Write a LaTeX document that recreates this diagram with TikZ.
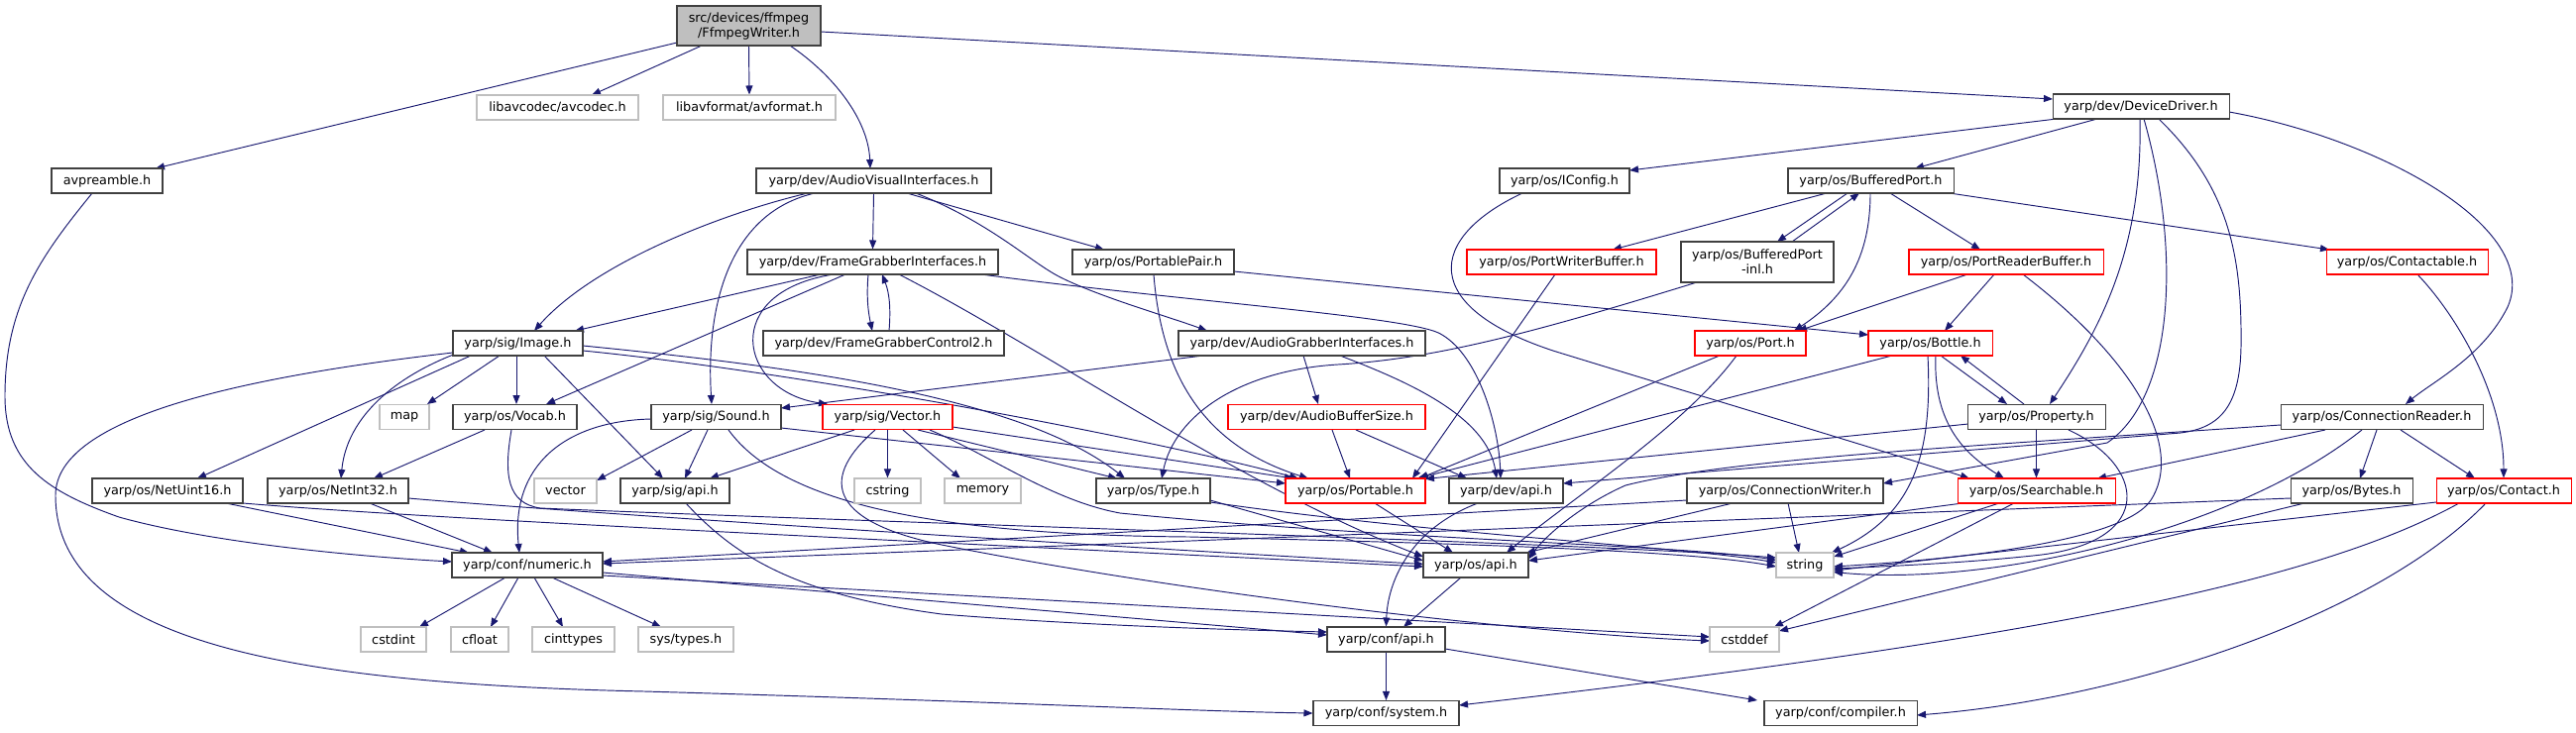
\documentclass[tikz,border=0pt]{standalone}
\usepackage{fontspec}
\setmainfont{DejaVu Sans}
\usetikzlibrary{arrows.meta}
\definecolor{mblue}{HTML}{191970}
\definecolor{nbord}{HTML}{404040}
\definecolor{gbord}{HTML}{BFBFBF}
\definecolor{rbord}{HTML}{FF0000}
\definecolor{rootg}{HTML}{BFBFBF}
\pgfdeclarelayer{bg}
\pgfsetlayers{bg,main}
\begin{document}
\begin{tikzpicture}[x=1pt,y=-1pt,
  nb/.style={draw=nbord,line width=1.05pt,fill=white,inner sep=0pt,minimum height=25pt,font=\fontsize{12.8}{15}\selectfont,text=black},
  ng/.style={nb,draw=gbord},
  nr/.style={nb,draw=rbord},
  e/.style={draw=mblue,line width=0.95pt,-{Triangle[length=9pt,width=7pt]}}]
\useasboundingbox (0,0) rectangle (2599,739);
\node[nb,minimum width=145pt,minimum height=40pt,fill=rootg,align=center] (ffw) at (755.5,26) {src/devices/ffmpeg\\/FfmpegWriter.h};
\node[ng,minimum width=163pt] (avcodec) at (562.5,108.5) {libavcodec/avcodec.h};
\node[ng,minimum width=174pt] (avformat) at (756,108.5) {libavformat/avformat.h};
\node[nb,minimum width=112pt] (avpre) at (108,182.5) {avpreamble.h};
\node[nb,minimum width=237pt] (AVI) at (881.5,182.5) {yarp/dev/AudioVisualInterfaces.h};
\node[nb,minimum width=131pt] (IConfig) at (1578.5,182.5) {yarp/os/IConfig.h};
\node[nb,minimum width=167pt] (BP) at (1887.5,182.5) {yarp/os/BufferedPort.h};
\node[nb,minimum width=178pt] (DD) at (2160,107.5) {yarp/dev/DeviceDriver.h};
\node[nb,minimum width=253pt] (FGI) at (880.5,264.5) {yarp/dev/FrameGrabberInterfaces.h};
\node[nb,minimum width=163pt] (PP) at (1163.5,264.5) {yarp/os/PortablePair.h};
\node[nr,minimum width=191pt] (PWB) at (1575.5,264.5) {yarp/os/PortWriterBuffer.h};
\node[nb,minimum width=154pt,minimum height=41pt,align=center] (BPinl) at (1773,264.5) {yarp/os/BufferedPort\\-inl.h};
\node[nr,minimum width=196pt] (PRB) at (2024,264.5) {yarp/os/PortReaderBuffer.h};
\node[nr,minimum width=163pt] (Contactable) at (2428.5,264.5) {yarp/os/Contactable.h};
\node[nb,minimum width=131pt] (Image) at (522.5,346.5) {yarp/sig/Image.h};
\node[nb,minimum width=243pt] (FGC2) at (891.5,346.5) {yarp/dev/FrameGrabberControl2.h};
\node[nb,minimum width=249pt] (AGI) at (1313.5,346.5) {yarp/dev/AudioGrabberInterfaces.h};
\node[nr,minimum width=112pt] (Port) at (1766,346.5) {yarp/os/Port.h};
\node[nr,minimum width=125pt] (Bottle) at (1947.5,346.5) {yarp/os/Bottle.h};
\node[ng,minimum width=50pt] (map) at (408,421) {map};
\node[nb,minimum width=125pt] (Vocab) at (519.5,421) {yarp/os/Vocab.h};
\node[nb,minimum width=131pt] (Sound) at (722.5,421) {yarp/sig/Sound.h};
\node[nr,minimum width=131pt] (Vector) at (895.5,421) {yarp/sig/Vector.h};
\node[nr,minimum width=199pt] (ABS) at (1338.5,421) {yarp/dev/AudioBufferSize.h};
\node[nb,minimum width=139pt] (Property) at (2054.5,421) {yarp/os/Property.h};
\node[nb,minimum width=204pt] (CR) at (2403,421) {yarp/os/ConnectionReader.h};
\node[nb,minimum width=152pt] (NetUint16) at (169,495.5) {yarp/os/NetUint16.h};
\node[nb,minimum width=142pt] (NetInt32) at (341,495.5) {yarp/os/NetInt32.h};
\node[ng,minimum width=63pt] (vector) at (570.5,495.5) {vector};
\node[nb,minimum width=110pt] (sigapi) at (681,495.5) {yarp/sig/api.h};
\node[ng,minimum width=67pt] (cstring) at (895.5,495.5) {cstring};
\node[ng,minimum width=77pt] (memory) at (991.5,495.5) {memory};
\node[nb,minimum width=115pt] (Type) at (1163.5,495.5) {yarp/os/Type.h};
\node[nr,minimum width=141pt] (Portable) at (1367.5,495.5) {yarp/os/Portable.h};
\node[nb,minimum width=115pt] (devapi) at (1519.5,495.5) {yarp/dev/api.h};
\node[nb,minimum width=198pt] (CW) at (1801,495.5) {yarp/os/ConnectionWriter.h};
\node[nr,minimum width=159pt] (Searchable) at (2054.5,495.5) {yarp/os/Searchable.h};
\node[nb,minimum width=123pt] (Bytes) at (2372.5,495.5) {yarp/os/Bytes.h};
\node[nr,minimum width=136pt] (Contact) at (2526,495.5) {yarp/os/Contact.h};
\node[nb,minimum width=152pt] (numeric) at (532,570.5) {yarp/conf/numeric.h};
\node[nb,minimum width=106pt] (osapi) at (1489,570.5) {yarp/os/api.h};
\node[ng,minimum width=58pt] (string) at (1821,570.5) {string};
\node[ng,minimum width=66pt] (cstdint) at (397,645.5) {cstdint};
\node[ng,minimum width=58pt] (cfloat) at (484,645.5) {cfloat};
\node[ng,minimum width=83pt] (cinttypes) at (578.5,645.5) {cinttypes};
\node[ng,minimum width=96pt] (systypes) at (692,645.5) {sys/types.h};
\node[nb,minimum width=119pt] (confapi) at (1398.5,645.5) {yarp/conf/api.h};
\node[ng,minimum width=70pt] (cstddef) at (1760,645.5) {cstddef};
\node[nb,minimum width=147pt] (system) at (1398.5,720) {yarp/conf/system.h};
\node[nb,minimum width=154pt] (compiler) at (1857,720) {yarp/conf/compiler.h};
\begin{pgfonlayer}{bg}
% root
\draw[e] ([shift={(-72.5,17)}]ffw.center) -- ([shift={(49,-12.5)}]avpre.center);
\draw[e] ([shift={(-47.5,20)}]ffw.center) -- ([shift={(34.5,-12.5)}]avcodec.center);
\draw[e] (ffw.south) -- (avformat.north);
\draw[e] ([shift={(41.5,20)}]ffw.center) .. controls (840,75) and (876,120) .. ([shift={(-3.5,-12.5)}]AVI.center);
\draw[e] ([shift={(72.5,6)}]ffw.center) -- ([shift={(-89,-7.5)}]DD.center);
% avpreamble
\draw[e] ([shift={(-15,12.5)}]avpre.center) .. controls (40,260) and (5,310) .. (5,400) .. controls (5,470) and (50,497) .. (120,522) .. controls (220,550) and (380,563) .. ([shift={(-76,-3.5)}]numeric.center);
% AVI
\draw[e] ([shift={(-66.5,12.5)}]AVI.center) .. controls (730,215) and (600,265) .. ([shift={(16.5,-12.5)}]Image.center);
\draw[e] ([shift={(-59.5,12.5)}]AVI.center) .. controls (735,215) and (712,310) .. ([shift={(-4.5,-13)}]Sound.center);
\draw[e] (AVI.south) -- (FGI.north);
\draw[e] ([shift={(33.5,12.5)}]AVI.center) -- ([shift={(-49.5,-12.5)}]PP.center);
\draw[e] ([shift={(42.5,12.5)}]AVI.center) .. controls (1000,225) and (1040,265) .. (1070,280) .. controls (1110,300) and (1180,320) .. ([shift={(-95.5,-12.5)}]AGI.center);
% FGI
\draw[e] ([shift={(-52.5,12.5)}]FGI.center) -- ([shift={(57.5,-12.5)}]Image.center);
\draw[e] ([shift={(-39.5,12.5)}]FGI.center) .. controls (725,295) and (745,395) .. ([shift={(-60.5,-13)}]Vector.center);
\draw[e] ([shift={(-27.5,12.5)}]FGI.center) -- ([shift={(31.5,-13)}]Vocab.center);
\draw[e] ([shift={(-4.5,12.5)}]FGI.center) .. controls (874,300) and (876,315) .. ([shift={(-11.5,-12.5)}]FGC2.center);
\draw[e] ([shift={(5.5,-12.5)}]FGC2.center) .. controls (899,310) and (897,295) .. ([shift={(9.5,12.5)}]FGI.center);
\draw[e] ([shift={(26.5,12.5)}]FGI.center) .. controls (1050,350) and (1250,490) .. ([shift={(-53,-8.5)}]osapi.center);
\draw[e] ([shift={(109.5,12.5)}]FGI.center) .. controls (1200,305) and (1430,320) .. (1455,338) .. controls (1492,360) and (1512,430) .. ([shift={(-5.5,-12.5)}]devapi.center);
% PortablePair
\draw[e] ([shift={(81.5,9.5)}]PP.center) -- ([shift={(-62.5,-8.5)}]Bottle.center);
\draw[e] ([shift={(0.5,12.5)}]PP.center) .. controls (1172,380) and (1215,450) .. ([shift={(-47.5,-12.5)}]Portable.center);
% IConfig
\draw[e] ([shift={(-42.5,12.5)}]IConfig.center) .. controls (1440,240) and (1430,310) .. (1570,355) .. controls (1700,395) and (1900,455) .. ([shift={(-67.5,-12.5)}]Searchable.center);
% DeviceDriver
\draw[e] ([shift={(-44,12.5)}]DD.center) -- ([shift={(44.5,-12.5)}]BP.center);
\draw[e] ([shift={(-85,12.5)}]DD.center) -- ([shift={(65.5,-10.5)}]IConfig.center);
\draw[e] ([shift={(-1,12.5)}]DD.center) .. controls (2162,250) and (2120,330) .. ([shift={(13.5,-13)}]Property.center);
\draw[e] ([shift={(3,12.5)}]DD.center) .. controls (2200,250) and (2195,400) .. (2126,447) -- ([shift={(99,-7.5)}]CW.center);
\draw[e] ([shift={(18,12.5)}]DD.center) .. controls (2250,190) and (2262,260) .. (2261,350) .. controls (2260,410) and (2240,432) .. (2200,437) -- ([shift={(57.5,-7.5)}]devapi.center);
\draw[e] ([shift={(89,5.5)}]DD.center) .. controls (2400,140) and (2565,230) .. (2530,310) .. controls (2505,360) and (2455,385) .. ([shift={(24,-13)}]CR.center);
% BufferedPort
\draw[e] ([shift={(-44.5,12.5)}]BP.center) -- ([shift={(51.5,-12.5)}]PWB.center);
\draw[e] ([shift={(-23.5,12.5)}]BP.center) -- ([shift={(20,-20.5)}]BPinl.center);
\draw[e] ([shift={(35,-20.5)}]BPinl.center) -- ([shift={(-11.5,12.5)}]BP.center);
\draw[e] ([shift={(-0.5,12.5)}]BP.center) .. controls (1887,260) and (1862,300) .. ([shift={(44,-12.5)}]Port.center);
\draw[e] ([shift={(19.5,12.5)}]BP.center) -- ([shift={(-26,-12.5)}]PRB.center);
\draw[e] ([shift={(79.5,12.5)}]BP.center) -- ([shift={(-78.5,-12.5)}]Contactable.center);
\draw[e] ([shift={(-61,20.5)}]BPinl.center) .. controls (1550,335) and (1450,362) .. (1350,368) .. controls (1250,374) and (1185,420) .. ([shift={(8.5,-12.5)}]Type.center);
% Contactable, PRB, PWB
\draw[e] ([shift={(10.5,12.5)}]Contactable.center) .. controls (2480,320) and (2526,400) .. (Contact.north);
\draw[e] ([shift={(-39,12.5)}]PRB.center) -- ([shift={(48,-12.5)}]Port.center);
\draw[e] ([shift={(-12,12.5)}]PRB.center) -- ([shift={(14.5,-12.5)}]Bottle.center);
\draw[e] ([shift={(17,12.5)}]PRB.center) .. controls (2150,360) and (2205,450) .. (2170,505) .. controls (2140,550) and (1950,566) .. ([shift={(29,1.5)}]string.center);
\draw[e] ([shift={(-6.5,12.5)}]PWB.center) -- ([shift={(57.5,-12.5)}]Portable.center);
% Port, Bottle, Property
\draw[e] ([shift={(-31,12.5)}]Port.center) -- ([shift={(64.5,-12.5)}]Portable.center);
\draw[e] ([shift={(-14,12.5)}]Port.center) .. controls (1700,430) and (1590,500) .. ([shift={(31,-12.5)}]osapi.center);
\draw[e] ([shift={(-38.5,12.5)}]Bottle.center) -- ([shift={(62.5,-12.5)}]Portable.center);
\draw[e] ([shift={(10.5,12.5)}]Bottle.center) -- ([shift={(-29.5,-13)}]Property.center);
\draw[e] ([shift={(-12.5,-13)}]Property.center) -- ([shift={(30.5,12.5)}]Bottle.center);
\draw[e] ([shift={(5.5,12.5)}]Bottle.center) .. controls (1950,430) and (1985,460) .. ([shift={(-32.5,-12.5)}]Searchable.center);
\draw[e] ([shift={(-2.5,12.5)}]Bottle.center) .. controls (1950,460) and (1930,520) .. ([shift={(27,-12.5)}]string.center);
\draw[e] (Property.south) -- (Searchable.north);
\draw[e] ([shift={(-68.5,7)}]Property.center) -- ([shift={(70.5,-12)}]Portable.center);
\draw[e] ([shift={(32.5,13)}]Property.center) .. controls (2165,470) and (2175,545) .. (2060,560) .. controls (1990,568) and (1900,572) .. ([shift={(29,3.5)}]string.center);
% Searchable
\draw[e] ([shift={(-37.5,12.5)}]Searchable.center) -- ([shift={(29,-8.5)}]string.center);
\draw[e] ([shift={(-74.5,12.5)}]Searchable.center) -- ([shift={(53,-4.5)}]osapi.center);
\draw[e] ([shift={(-22.5,12.5)}]Searchable.center) -- ([shift={(30,-12.5)}]cstddef.center);
% ConnectionReader
\draw[e] ([shift={(-57,13)}]CR.center) -- ([shift={(61.5,-12.5)}]Searchable.center);
\draw[e] ([shift={(-5,13)}]CR.center) -- ([shift={(8.5,-12.5)}]Bytes.center);
\draw[e] ([shift={(19,13)}]CR.center) -- ([shift={(-29,-12.5)}]Contact.center);
\draw[e] ([shift={(-102,8)}]CR.center) .. controls (2000,450) and (1750,462) .. (1640,490) .. controls (1595,510) and (1560,540) .. ([shift={(53,-6)}]osapi.center);
\draw[e] ([shift={(-20,13)}]CR.center) .. controls (2250,540) and (2000,592) .. ([shift={(29,7)}]string.center);
% ConnectionWriter
\draw[e] ([shift={(3,12.5)}]CW.center) -- ([shift={(-6,-12.5)}]string.center);
\draw[e] ([shift={(-53,12.5)}]CW.center) -- ([shift={(51,-12.5)}]osapi.center);
\draw[e] ([shift={(-99,9.5)}]CW.center) -- ([shift={(76,-3.5)}]numeric.center);
% Bytes, Contact
\draw[e] ([shift={(-61.5,7.5)}]Bytes.center) -- ([shift={(76,-1.5)}]numeric.center);
\draw[e] ([shift={(-47.5,12.5)}]Bytes.center) -- ([shift={(35,-8.5)}]cstddef.center);
\draw[e] ([shift={(-68,11.5)}]Contact.center) -- ([shift={(29,5.5)}]string.center);
\draw[e] ([shift={(-45,12.5)}]Contact.center) .. controls (2350,580) and (2100,640) .. ([shift={(73.5,-8)}]system.center);
\draw[e] ([shift={(-18,12.5)}]Contact.center) .. controls (2400,620) and (2150,705) .. ([shift={(77,2)}]compiler.center);
% Type, Portable, dev/api, os/api
\draw[e] ([shift={(57.5,9.5)}]Type.center) -- ([shift={(-53,-4.5)}]osapi.center);
\draw[e] ([shift={(57.5,11.5)}]Type.center) .. controls (1450,540) and (1700,552) .. ([shift={(-29,-2.5)}]string.center);
\draw[e] ([shift={(19.5,12.5)}]Portable.center) -- ([shift={(-23,-12.5)}]osapi.center);
\draw[e] ([shift={(-28.5,12.5)}]devapi.center) .. controls (1420,535) and (1400,590) .. (confapi.north);
\draw[e] ([shift={(-15,12.5)}]osapi.center) -- ([shift={(17.5,-12.5)}]confapi.center);
% numeric
\draw[e] ([shift={(-22,12.5)}]numeric.center) -- ([shift={(26,-12.5)}]cstdint.center);
\draw[e] ([shift={(-9,12.5)}]numeric.center) -- ([shift={(11,-12.5)}]cfloat.center);
\draw[e] ([shift={(7,12.5)}]numeric.center) -- ([shift={(-10.5,-12.5)}]cinttypes.center);
\draw[e] ([shift={(25,12.5)}]numeric.center) -- ([shift={(-25,-12.5)}]systypes.center);
\draw[e] ([shift={(76,7.5)}]numeric.center) -- ([shift={(-59.5,-4.5)}]confapi.center);
\draw[e] ([shift={(76,10.5)}]numeric.center) -- ([shift={(-35,-2.5)}]cstddef.center);
% NetUint16, NetInt32, Vocab
\draw[e] ([shift={(59,12.5)}]NetUint16.center) -- ([shift={(-59,-12.5)}]numeric.center);
\draw[e] ([shift={(76,12.5)}]NetUint16.center) .. controls (450,525) and (900,545) .. ([shift={(-53,1.5)}]osapi.center);
\draw[e] ([shift={(32,12.5)}]NetInt32.center) -- ([shift={(-35,-12.5)}]numeric.center);
\draw[e] ([shift={(71,7.5)}]NetInt32.center) .. controls (550,515) and (1000,545) .. ([shift={(-53,-1)}]osapi.center);
\draw[e] ([shift={(-30.5,13)}]Vocab.center) -- ([shift={(36,-12.5)}]NetInt32.center);
\draw[e] ([shift={(-3.5,13)}]Vocab.center) .. controls (508,480) and (512,508) .. (545,513) .. controls (900,528) and (1600,548) .. ([shift={(-29,-7.5)}]string.center);
% Sound
\draw[e] ([shift={(-65.5,2)}]Sound.center) .. controls (570,425) and (515,470) .. ([shift={(-8,-12.5)}]numeric.center);
\draw[e] ([shift={(-24.5,13)}]Sound.center) -- ([shift={(31.5,-10.5)}]vector.center);
\draw[e] ([shift={(-8.5,13)}]Sound.center) -- ([shift={(10,-12.5)}]sigapi.center);
\draw[e] ([shift={(65.5,11)}]Sound.center) -- ([shift={(-70.5,-7.5)}]Portable.center);
\draw[e] ([shift={(12.5,13)}]Sound.center) .. controls (790,510) and (950,540) .. (1200,542) .. controls (1450,548) and (1700,555) .. ([shift={(-29,1.5)}]string.center);
% Image
\draw[e] ([shift={(-18.5,12.5)}]Image.center) -- ([shift={(23,-13)}]map.center);
\draw[e] ([shift={(-1.5,12.5)}]Image.center) -- ([shift={(1.5,-13)}]Vocab.center);
\draw[e] ([shift={(-47.5,12.5)}]Image.center) -- ([shift={(30,-12.5)}]NetUint16.center);
\draw[e] ([shift={(-62.5,10.5)}]Image.center) .. controls (400,380) and (350,420) .. ([shift={(3,-12.5)}]NetInt32.center);
\draw[e] ([shift={(26.5,12.5)}]Image.center) -- ([shift={(-12,-12.5)}]sigapi.center);
\draw[e] ([shift={(65.5,2.5)}]Image.center) .. controls (800,370) and (1030,400) .. ([shift={(-28.5,-12.5)}]Type.center);
\draw[e] ([shift={(65.5,7.5)}]Image.center) .. controls (800,375) and (1150,440) .. ([shift={(-57.5,-12.5)}]Portable.center);
\draw[e] ([shift={(-65.5,9.5)}]Image.center) .. controls (250,380) and (56,420) .. (56,500) .. controls (56,650) and (300,690) .. (650,698) .. controls (1000,708) and (1200,718) .. (system.west);
% Vector
\draw[e] ([shift={(-33.5,13)}]Vector.center) -- ([shift={(35,-12.5)}]sigapi.center);
\draw[e] ([shift={(-12.5,13)}]Vector.center) .. controls (830,480) and (830,525) .. (950,550) .. controls (1200,600) and (1550,640) .. ([shift={(-35,1.5)}]cstddef.center);
\draw[e] (Vector.south) -- (cstring.north);
\draw[e] ([shift={(15.5,13)}]Vector.center) -- ([shift={(-22.5,-12.5)}]memory.center);
\draw[e] ([shift={(30.5,13)}]Vector.center) -- ([shift={(-36.5,-12.5)}]Type.center);
\draw[e] ([shift={(42.5,13)}]Vector.center) .. controls (1000,460) and (1060,505) .. (1130,518) .. controls (1400,545) and (1700,550) .. ([shift={(-29,-5)}]string.center);
\draw[e] ([shift={(65.5,10)}]Vector.center) -- ([shift={(-62.5,-12.5)}]Portable.center);
% AudioGrabber, AudioBufferSize
\draw[e] ([shift={(-99.5,12.5)}]AGI.center) -- ([shift={(65.5,-9)}]Sound.center);
\draw[e] ([shift={(1.5,12.5)}]AGI.center) -- ([shift={(-8.5,-13)}]ABS.center);
\draw[e] ([shift={(38.5,12.5)}]AGI.center) .. controls (1420,385) and (1500,420) .. ([shift={(-9.5,-12.5)}]devapi.center);
\draw[e] ([shift={(5.5,13)}]ABS.center) -- ([shift={(-5.5,-12.5)}]Portable.center);
\draw[e] ([shift={(29.5,13)}]ABS.center) -- ([shift={(-39.5,-12.5)}]devapi.center);
% conf
\draw[e] (confapi.south) -- (system.north);
\draw[e] ([shift={(59.5,9.5)}]confapi.center) -- ([shift={(-84,-13)}]compiler.center);
\draw[e] ([shift={(11,12.5)}]sigapi.center) .. controls (740,560) and (800,600) .. (950,620) .. controls (1100,632) and (1250,636) .. ([shift={(-59.5,-7.5)}]confapi.center);
\end{pgfonlayer}
\end{tikzpicture}
\end{document}
